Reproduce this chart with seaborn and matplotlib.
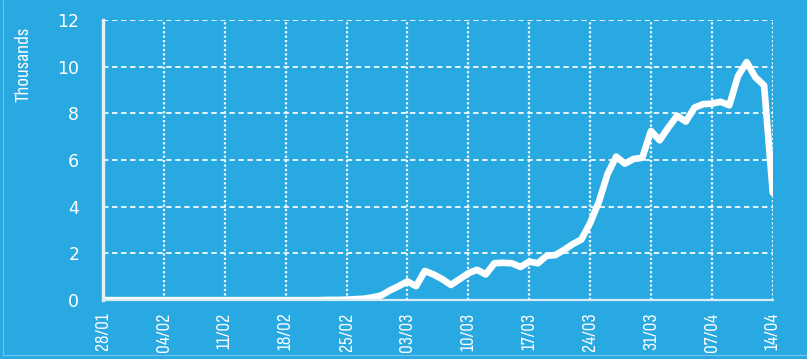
import matplotlib
matplotlib.use("Agg")
import matplotlib.pyplot as plt
import matplotlib.dates as mdates
from matplotlib.lines import Line2D
import seaborn as sns
import pandas as pd

# ---- data (thousands) ----
start_date = "2020-01-28"
end_date = "2020-04-14"
values = [
    0.0, 0.0, 0.0, 0.0, 0.0, 0.0, 0.0,          # 28/01 - 03/02
    0.0, 0.0, 0.0, 0.0, 0.0, 0.0, 0.0,          # 04/02 - 10/02
    0.0, 0.0, 0.0, 0.0, 0.0, 0.0, 0.0,          # 11/02 - 17/02
    0.0, 0.0, 0.0, 0.0, 0.0, 0.01, 0.01,        # 18/02 - 24/02
    0.02, 0.04, 0.06, 0.12, 0.2, 0.42, 0.6,     # 25/02 - 02/03
    0.8, 0.6, 1.25, 1.1, 0.9, 0.65, 0.9,        # 03/03 - 09/03
    1.15, 1.3, 1.1, 1.58, 1.6, 1.58, 1.42,      # 10/03 - 16/03
    1.65, 1.58, 1.9, 1.93, 2.15, 2.4, 2.6,      # 17/03 - 23/03
    3.3, 4.2, 5.4, 6.15, 5.85, 6.05, 6.1,       # 24/03 - 30/03
    7.25, 6.85, 7.4, 7.9, 7.65, 8.25, 8.4,      # 31/03 - 06/04
    8.42, 8.5, 8.35, 9.6, 10.2, 9.55, 9.2,      # 07/04 - 13/04
    4.6,                                        # 14/04
]
tick_dates = ["2020-01-28", "2020-02-04", "2020-02-11", "2020-02-18", "2020-02-25",
              "2020-03-03", "2020-03-10", "2020-03-17", "2020-03-24", "2020-03-31",
              "2020-04-07", "2020-04-14"]
y_ticks = [0, 2, 4, 6, 8, 10, 12]
y_label = "Thousands"

dates = pd.date_range(start_date, end_date, freq="D")
df = pd.DataFrame({"date": dates, "value": values})

BG = "#28a9e1"
NARROW = ["Sofia Sans Condensed", "Roboto Condensed", "DejaVu Sans"]
sns.set_theme(style="white")
plt.rcParams["font.family"] = ["DejaVu Sans"]

fig = plt.figure(figsize=(8.07, 3.59), dpi=100)
fig.patch.set_facecolor(BG)
ax = fig.add_axes([0.1276, 0.164, 0.830, 0.780])
ax.set_facecolor(BG)

sns.lineplot(data=df, x="date", y="value", ax=ax, color="white", linewidth=4.8,
             solid_joinstyle="round", solid_capstyle="round")

ax.set_xlim(pd.Timestamp(start_date), pd.Timestamp(end_date))
ax.set_ylim(0, 12)
ax.set_yticks(y_ticks)
ax.set_xticks(pd.to_datetime(tick_dates))
ax.xaxis.set_major_formatter(mdates.DateFormatter("%d/%m"))

# grid: horizontal dashed, vertical dotted
ax.grid(False)
ax.yaxis.grid(True, color="white", linestyle=(0, (3, 2)), linewidth=1.3, alpha=0.95)
ax.xaxis.grid(True, color="white", linestyle=(0, (1, 1)), linewidth=1.6, alpha=0.95)
ax.set_axisbelow(True)

for s in ["top", "right"]:
    ax.spines[s].set_visible(False)
ax.spines["left"].set_color("#e6f1f6")
ax.spines["left"].set_linewidth(2.4)
ax.spines["bottom"].set_color("#d9ecf5")
ax.spines["bottom"].set_linewidth(1.6)

ax.tick_params(axis="both", length=0, colors="white")
for lab in ax.get_xticklabels():
    lab.set_rotation(90)
    lab.set_fontfamily(NARROW)
    lab.set_fontsize(14)
    lab.set_fontweight("medium")
    lab.set_color("white")
for lab in ax.get_yticklabels():
    lab.set_fontfamily(["DejaVu Sans"])
    lab.set_fontsize(12.5)
    lab.set_color("white")
ax.tick_params(axis="y", pad=17)
ax.tick_params(axis="x", pad=9)

ax.set_xlabel("")
ax.set_ylabel(y_label, color="white", fontsize=15, fontfamily=NARROW, fontweight="medium")
ax.yaxis.set_label_coords(-0.105, 0.843)

# thin light frame lines at the left and bottom edge of the picture
fig.add_artist(Line2D([3 / 807, 3 / 807], [4 / 359, 1.0], transform=fig.transFigure,
                      color="#6cc2ea", linewidth=0.9))
fig.add_artist(Line2D([3 / 807, 1.0], [4 / 359, 4 / 359], transform=fig.transFigure,
                      color="#6cc2ea", linewidth=0.9))

fig.savefig("out.png", dpi=100, facecolor=BG)
